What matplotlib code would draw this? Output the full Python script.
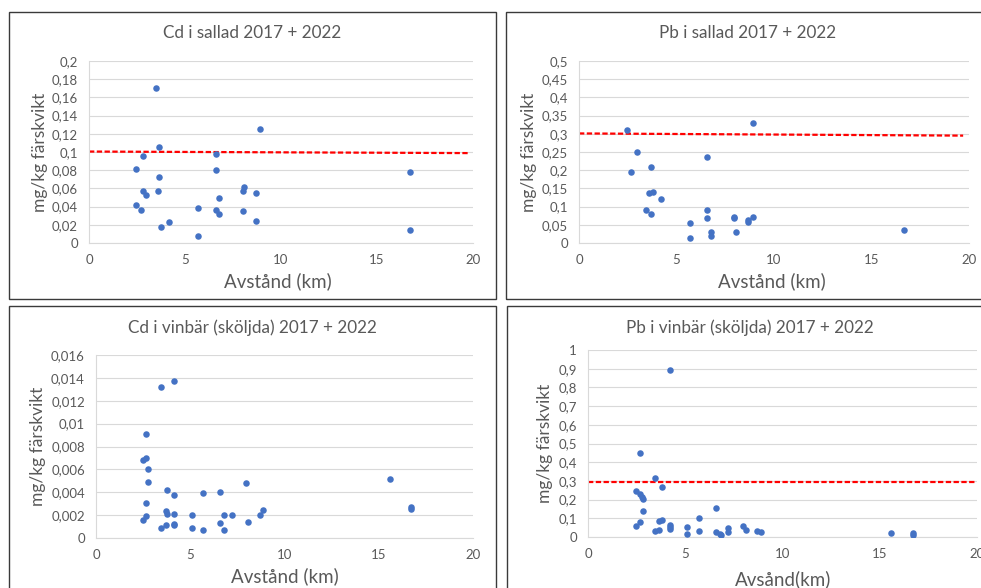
import matplotlib
matplotlib.use("Agg")
import matplotlib.pyplot as plt
from matplotlib.patches import Rectangle

plt.rcParams['font.family'] = ['Lato', 'DejaVu Sans']

GREY = "#595959"
GRID = "#d9d9d9"
BLUE = "#4472c4"

# --- data (distance km, mg/kg) ---
cd_sallad_x = [3.48, 8.9, 3.65, 2.82, 6.59, 2.47, 6.59, 16.7, 3.65, 2.82, 2.99, 3.6,
               8.05, 8.0, 8.68, 6.77, 2.47, 2.7, 5.69, 6.59, 6.77, 8.0, 8.68, 4.16,
               3.77, 5.69, 16.7]
cd_sallad_y = [0.170, 0.125, 0.105, 0.0956, 0.098, 0.081, 0.080, 0.078, 0.072, 0.0575,
               0.053, 0.0575, 0.061, 0.0575, 0.055, 0.050, 0.042, 0.036, 0.038, 0.036,
               0.0315, 0.035, 0.024, 0.0227, 0.018, 0.0073, 0.0147]

pb_sallad_x = [8.9, 2.46, 2.95, 6.56, 3.67, 2.68, 3.57, 3.79, 4.18, 3.45, 3.69, 6.56,
               6.56, 5.67, 7.94, 7.96, 8.66, 8.69, 8.9, 6.78, 6.78, 8.06, 5.67, 16.65]
pb_sallad_y = [0.331, 0.310, 0.250, 0.235, 0.209, 0.194, 0.137, 0.140, 0.120, 0.090,
               0.081, 0.090, 0.069, 0.054, 0.071, 0.069, 0.058, 0.062, 0.071, 0.031,
               0.018, 0.030, 0.013, 0.037]

cd_vinbar_x = [4.16, 3.47, 2.66, 2.5, 2.67, 2.78, 2.78, 3.76, 4.16, 5.65, 6.57, 7.95,
               15.59, 16.69, 16.69, 2.66, 2.67, 2.5, 3.7, 3.76, 4.16, 5.07, 6.8, 7.21,
               8.7, 8.87, 8.06, 6.57, 3.7, 3.47, 4.16, 4.16, 5.07, 5.65, 6.8]
cd_vinbar_y = [0.01375, 0.01317, 0.00908, 0.00683, 0.00698, 0.00604, 0.0049, 0.00418,
               0.0038, 0.0039, 0.00406, 0.00485, 0.0052, 0.00274, 0.00257, 0.00304,
               0.00196, 0.0016, 0.00236, 0.0021, 0.00207, 0.00199, 0.00199, 0.00199,
               0.00199, 0.00245, 0.00143, 0.00131, 0.00114, 0.0009, 0.0012, 0.00111,
               0.00085, 0.00067, 0.00067]

pb_vinbar_x = [4.2, 2.69, 3.44, 3.8, 2.47, 2.66, 2.79, 2.83, 2.81, 6.58, 5.71, 3.8,
               3.65, 2.69, 2.47, 4.2, 4.2, 4.2, 5.09, 5.09, 5.71, 3.44, 3.65, 6.58,
               6.77, 6.84, 7.2, 7.2, 7.99, 8.11, 8.69, 8.9, 15.6, 16.71, 16.71]
pb_vinbar_y = [0.891, 0.447, 0.315, 0.267, 0.244, 0.231, 0.214, 0.203, 0.141, 0.157,
               0.100, 0.093, 0.087, 0.078, 0.059, 0.066, 0.053, 0.041, 0.053, 0.018,
               0.030, 0.030, 0.036, 0.025, 0.016, 0.011, 0.048, 0.025, 0.060, 0.037,
               0.032, 0.025, 0.020, 0.020, 0.012]

# hand drawn limit lines (start x, end x), (start y, end y)
cd_sallad_limit = ([0, 19.8], [0.1005, 0.0988])
pb_sallad_limit = ([0, 19.7], [0.301, 0.295])
pb_vinbar_limit = ([0, 19.9], [0.296, 0.296])

x_ticks = [0, 5, 10, 15, 20]
cd_sallad_ticks = [0, 0.02, 0.04, 0.06, 0.08, 0.1, 0.12, 0.14, 0.16, 0.18, 0.2]
cd_sallad_labels = ["0", "0,02", "0,04", "0,06", "0,08", "0,1", "0,12", "0,14", "0,16", "0,18", "0,2"]
pb_sallad_ticks = [0, 0.05, 0.1, 0.15, 0.2, 0.25, 0.3, 0.35, 0.4, 0.45, 0.5]
pb_sallad_labels = ["0", "0,05", "0,1", "0,15", "0,2", "0,25", "0,3", "0,35", "0,4", "0,45", "0,5"]
cd_vinbar_ticks = [0, 0.002, 0.004, 0.006, 0.008, 0.01, 0.012, 0.014, 0.016]
cd_vinbar_labels = ["0", "0,002", "0,004", "0,006", "0,008", "0,01", "0,012", "0,014", "0,016"]
pb_vinbar_ticks = [0, 0.1, 0.2, 0.3, 0.4, 0.5, 0.6, 0.7, 0.8, 0.9, 1]
pb_vinbar_labels = ["0", "0,1", "0,2", "0,3", "0,4", "0,5", "0,6", "0,7", "0,8", "0,9", "1"]

W, H = 981, 588
fig = plt.figure(figsize=(W / 100, H / 100), dpi=100)


def px_axes(left, right, top, bottom):
    return fig.add_axes([left / W, 1 - bottom / H, (right - left) / W, (bottom - top) / H])


def panel(box, axbox, title, title_xy, x, y, yticks, ylabels, xlabel, xlab_xy, ylab_x, limit=None):
    # chart frame
    l, t, r, b = box
    fig.patches.append(Rectangle((l / W, 1 - b / H), (r - l) / W, (b - t) / H,
                                 transform=fig.transFigure, fill=False,
                                 edgecolor="#3a3a3a", linewidth=1.0))
    fig.text(title_xy[0] / W, 1 - title_xy[1] / H, title, ha="center", va="center",
             fontsize=12.3, color=GREY)

    ax = px_axes(*axbox)
    ax.scatter(x, y, s=22, color=BLUE, zorder=3, linewidths=0)
    if limit is not None:
        ax.plot(limit[0], limit[1], color="red", linewidth=1.6,
                dashes=(2.4, 1.1), zorder=2)

    ax.set_xlim(0, 20)
    ax.set_ylim(yticks[0], yticks[-1])
    ax.set_xticks(x_ticks)
    ax.set_xticklabels([str(v) for v in x_ticks])
    ax.set_yticks(yticks)
    ax.set_yticklabels(ylabels)
    ax.tick_params(length=0, labelsize=9.5, labelcolor=GREY, pad=8)
    ax.grid(axis="y", color=GRID, linewidth=0.8)
    ax.set_axisbelow(True)
    for s in ["top", "right"]:
        ax.spines[s].set_visible(False)
    for s in ["left", "bottom"]:
        ax.spines[s].set_color(GRID)
        ax.spines[s].set_linewidth(0.8)

    left, right, top, bottom = axbox
    ax.set_xlabel(xlabel, fontsize=13.5, color=GREY)
    ax.xaxis.set_label_coords((xlab_xy[0] - left) / (right - left),
                              (bottom - xlab_xy[1]) / (bottom - top))
    ax.xaxis.label.set_va("center")
    ax.set_ylabel("mg/kg färskvikt", fontsize=12.5, color=GREY)
    ax.yaxis.set_label_coords((ylab_x - left) / (right - left), 0.5)
    ax.yaxis.label.set_va("center")
    return ax


panel((9, 12, 496, 299), (89, 473, 61, 243), "Cd i sallad 2017 + 2022", (252, 33),
      cd_sallad_x, cd_sallad_y, cd_sallad_ticks, cd_sallad_labels,
      "Avstånd (km)", (278, 281), 40, cd_sallad_limit)

panel((506, 12, 995, 299), (579, 969, 61, 243), "Pb i sallad 2017 + 2022", (748, 33),
      pb_sallad_x, pb_sallad_y, pb_sallad_ticks, pb_sallad_labels,
      "Avstånd (km)", (772, 281), 529, pb_sallad_limit)

panel((9, 306, 496, 600), (96, 473, 355, 538), "Cd i vinbär (sköljda) 2017 + 2022", (252, 328),
      cd_vinbar_x, cd_vinbar_y, cd_vinbar_ticks, cd_vinbar_labels,
      "Avstånd (km)", (285, 576), 38)

panel((507, 306, 995, 600), (588, 977, 350, 537), "Pb i vinbär (sköljda) 2017 + 2022", (750, 328),
      pb_vinbar_x, pb_vinbar_y, pb_vinbar_ticks, pb_vinbar_labels,
      "Avsånd(km)", (783, 579), 545, pb_vinbar_limit)

fig.savefig("out.png", dpi=100)
